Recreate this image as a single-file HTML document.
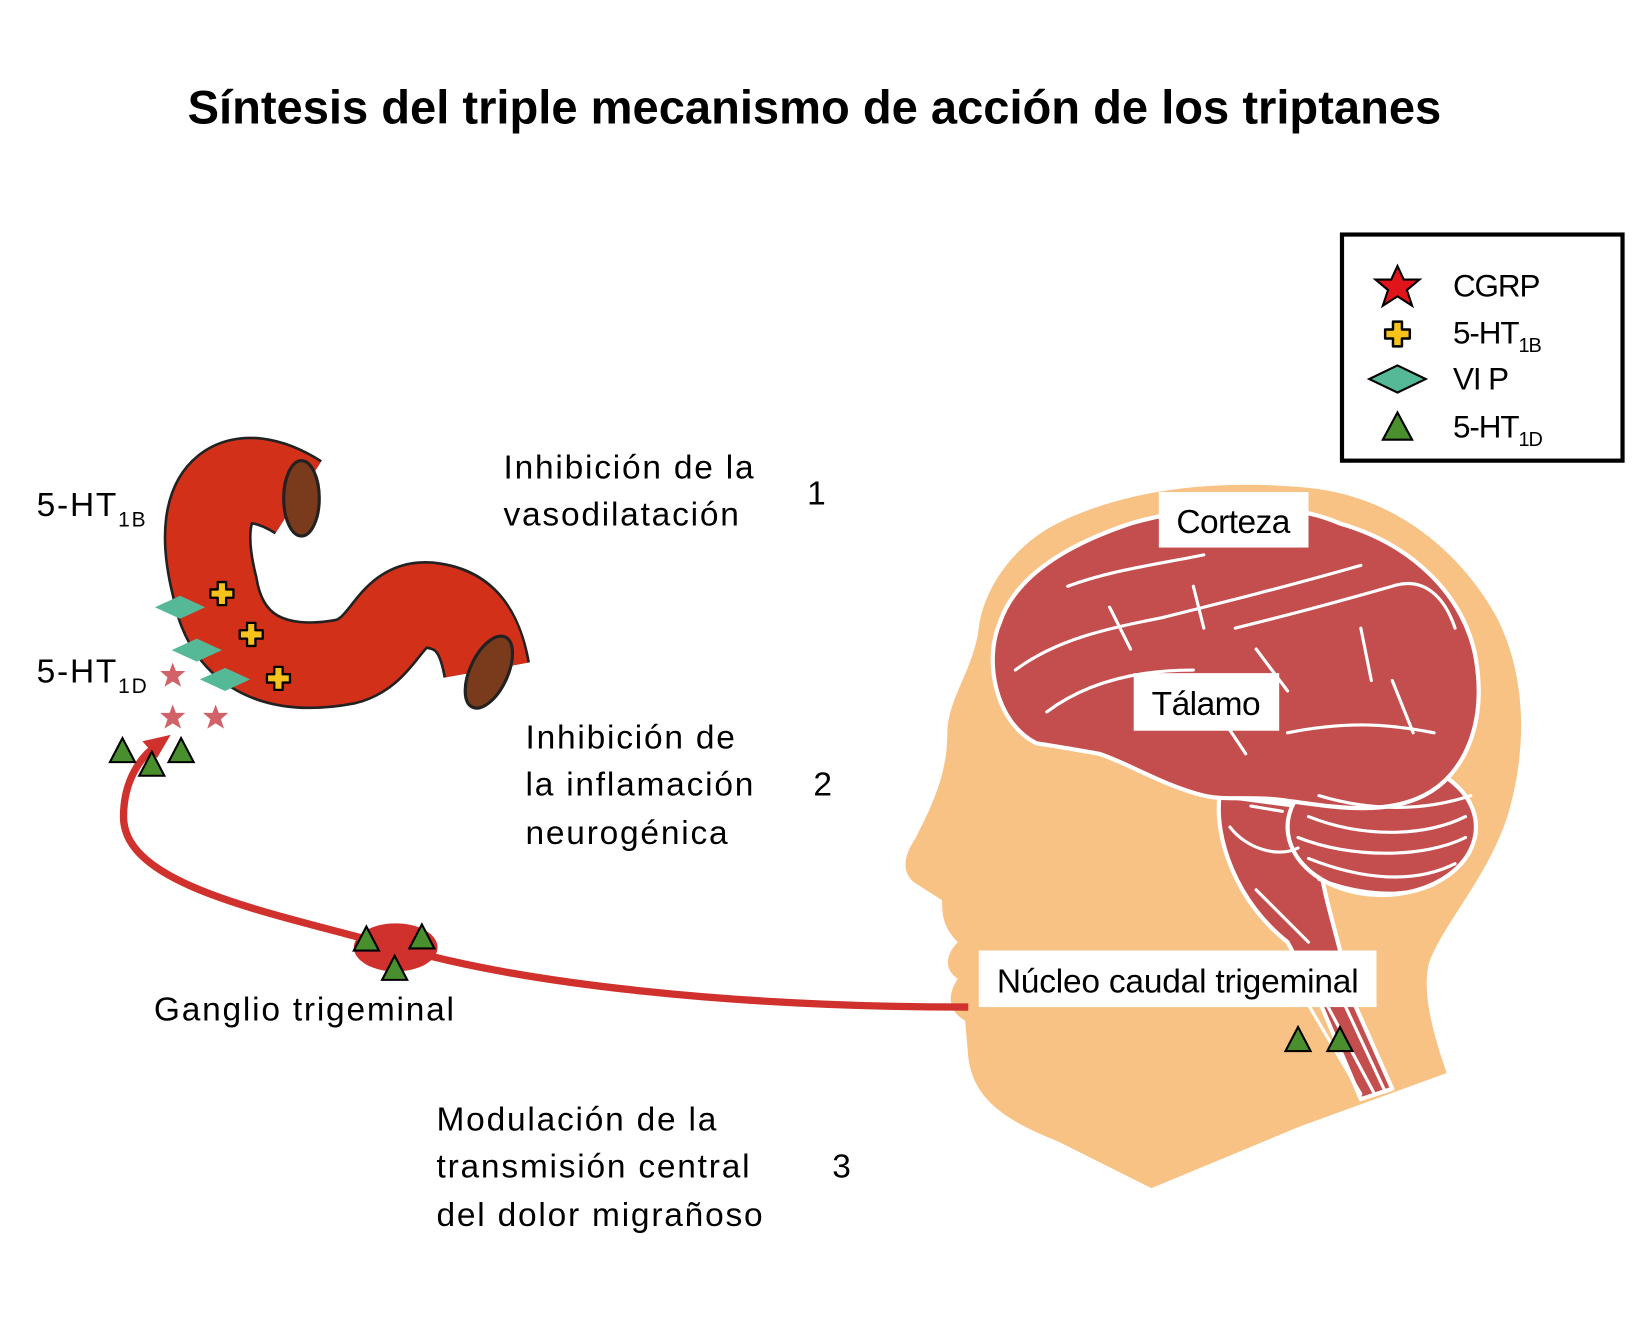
<!DOCTYPE html>
<html><head><meta charset="utf-8"><style>
html,body{margin:0;padding:0;background:#fff;}
svg{display:block;}
text{font-family:"Liberation Sans",sans-serif;fill:#000;}
</style></head><body>
<svg width="1633" height="1317" viewBox="0 0 1560 1258" xmlns="http://www.w3.org/2000/svg">
<defs>
<symbol id="tri" viewBox="-14 -14 28 28"><polygon points="0,-12 12,11 -12,11" fill="#4a8f2e" stroke="#000" stroke-width="2"/></symbol>
<symbol id="crs" viewBox="-14 -14 28 28"><path d="M-4,-11 H4 V-4 H11 V4 H4 V11 H-4 V4 H-11 V-4 H-4 Z" fill="#f8c21c" stroke="#000" stroke-width="2.2" stroke-linejoin="round"/></symbol>
<symbol id="dia" viewBox="-26 -13 52 26"><polygon points="0,-11 24,0 0,11 -24,0" fill="#55b897"/></symbol>
<symbol id="star" viewBox="-14 -14 28 28"><polygon points="0,-12 3,-4 12,-4 5,2 8,11 0,6 -8,11 -5,2 -12,-4 -3,-4" fill="#c8474d" opacity="0.85"/></symbol>
</defs>

<text x="778" y="118" text-anchor="middle" font-size="45" font-weight="bold">Síntesis del triple mecanismo de acción de los triptanes</text>

<!-- Legend -->
<rect x="1282" y="224" width="268" height="216" fill="#fff" stroke="#000" stroke-width="4"/>
<polygon points="1335,254 1341,267 1356,267 1344,277 1349,292 1335,283 1321,292 1326,277 1314,267 1329,267" fill="#e0141b" stroke="#000" stroke-width="2"/>
<use href="#crs" x="1320" y="304" width="30" height="30"/>
<polygon points="1335,349 1362,362 1335,375 1308,362" fill="#55b897" stroke="#000" stroke-width="2"/>
<polygon points="1335,394 1349,420 1321,420" fill="#4a8f2e" stroke="#000" stroke-width="2"/>
<text x="1388" y="283" font-size="30" letter-spacing="-1">CGRP</text>
<text x="1388" y="328" font-size="30" letter-spacing="-1">5-HT<tspan font-size="19" dy="8">1B</tspan></text>
<text x="1388" y="372" font-size="30" letter-spacing="-1">VI P</text>
<text x="1388" y="418" font-size="30" letter-spacing="-1">5-HT<tspan font-size="19" dy="8">1D</tspan></text>

<!-- Head -->
<path d="M1100,1135 L1010,1090 C960,1070 930,1050 925,1010 L922,975 C905,965 905,950 915,935 C900,925 905,910 915,900 C900,885 900,872 900,860 L872,842 C860,830 865,815 875,800 C890,770 905,740 905,700 C905,668 930,640 935,600 C940,560 970,520 1010,500 C1080,465 1170,458 1250,466 C1340,475 1400,535 1430,590 C1460,650 1458,720 1440,780 C1420,840 1380,880 1365,920 C1358,950 1370,990 1382,1025 L1242,1076 Z" fill="#f8c285"/>

<!-- Brain -->
<g stroke="#fff" stroke-width="4" fill="#c44e4e" stroke-linejoin="round">
<path d="M1165,760 C1160,800 1180,860 1230,900 L1262,960 L1300,1050 L1330,1040 L1290,950 C1280,900 1265,860 1260,820 L1240,770 Z"/>
<ellipse cx="1320" cy="790" rx="90" ry="65"/>
<path d="M990,710 C950,690 940,630 955,595 C970,550 1020,520 1080,500 C1150,480 1230,478 1280,500 C1350,520 1400,570 1410,630 C1420,690 1400,740 1360,760 C1320,780 1270,770 1230,765 C1200,760 1170,765 1150,760 C1110,750 1080,730 1050,720 C1020,715 1005,712 990,710 Z"/>
</g>
<g stroke="#fff" stroke-width="3" fill="none" stroke-linecap="round">
<path d="M970,640 C1010,610 1060,600 1110,590 C1170,575 1230,560 1300,540"/>
<path d="M1000,680 C1040,650 1090,640 1140,640"/>
<path d="M1020,560 C1060,545 1100,540 1150,530"/>
<path d="M1180,600 C1220,590 1260,580 1330,560 C1360,550 1380,570 1390,600"/>
<path d="M1230,700 C1280,690 1320,690 1370,700"/>
<path d="M1060,580 L1080,620 M1140,560 L1150,600 M1200,620 L1230,660 M1300,600 L1310,650 M1330,650 L1350,700 M1170,690 L1190,720"/>
<path d="M1250,780 C1300,800 1360,800 1400,780 M1240,800 C1290,820 1360,820 1400,800 M1250,820 C1300,840 1350,845 1390,825 M1260,840 C1300,855 1340,858 1370,845 M1260,760 C1310,775 1360,775 1405,760"/>
<path d="M1175,790 C1190,810 1220,820 1240,810 M1195,770 L1225,775 M1200,850 C1220,870 1240,890 1250,900"/>
<path d="M1250,960 L1300,1045 M1265,955 L1312,1043 M1280,950 L1322,1040"/>
</g>

<rect x="1107" y="470" width="143" height="53" fill="#fff"/>
<text x="1178" y="509" text-anchor="middle" font-size="32" letter-spacing="-0.5">Corteza</text>
<rect x="1083" y="643" width="139" height="55" fill="#fff"/>
<text x="1152" y="683" text-anchor="middle" font-size="32" letter-spacing="-0.5">Tálamo</text>
<rect x="935" y="908" width="380" height="54" fill="#fff"/>
<text x="1125" y="948" text-anchor="middle" font-size="32" letter-spacing="-0.2">Núcleo caudal trigeminal</text>
<use href="#tri" x="1226" y="979" width="28" height="28"/>
<use href="#tri" x="1266" y="979" width="28" height="28"/>

<!-- Red arrow -->
<path d="M925,962 C700,962 500,940 380,905 C250,870 118,845 118,780 C118,745 135,722 150,712" fill="none" stroke="#d0312d" stroke-width="7"/>
<polygon points="163,702 136,708 150,724" fill="#d0312d"/>
<ellipse cx="378" cy="905" rx="40" ry="23" fill="#d0312d"/>
<use href="#tri" x="336" y="883" width="28" height="28"/>
<use href="#tri" x="389" y="881" width="28" height="28"/>
<use href="#tri" x="363" y="911" width="28" height="28"/>

<!-- Vessel -->
<path d="M285,475 C230,440 180,460 205,560 C215,620 260,645 330,632 C370,622 370,575 410,578 C450,582 460,612 465,640" fill="none" stroke="#222" stroke-width="84" stroke-linecap="butt"/>
<path d="M285,475 C230,440 180,460 205,560 C215,620 260,645 330,632 C370,622 370,575 410,578 C450,582 460,612 465,640" fill="none" stroke="#d3301a" stroke-width="79" stroke-linecap="butt"/>
<ellipse cx="288" cy="476" rx="17" ry="36" fill="#7a3a1c" stroke="#222" stroke-width="3"/>
<ellipse cx="467" cy="642" rx="18" ry="37" transform="rotate(25 467 642)" fill="#7a3a1c" stroke="#222" stroke-width="3"/>
<use href="#crs" x="198" y="553" width="28" height="28"/>
<use href="#crs" x="226" y="592" width="28" height="28"/>
<use href="#crs" x="252" y="634" width="28" height="28"/>
<use href="#dia" x="146" y="567" width="52" height="26"/>
<use href="#dia" x="162" y="608" width="52" height="26"/>
<use href="#dia" x="189" y="636" width="52" height="26"/>
<use href="#star" x="151" y="631" width="28" height="28"/>
<use href="#star" x="151" y="671" width="28" height="28"/>
<use href="#star" x="192" y="671" width="28" height="28"/>
<use href="#tri" x="103" y="703" width="28" height="28"/>
<use href="#tri" x="131" y="716" width="28" height="28"/>
<use href="#tri" x="159" y="703" width="28" height="28"/>

<!-- Labels -->
<g font-size="32" letter-spacing="1.7">
<text x="35" y="493">5-HT<tspan font-size="20" dy="10">1B</tspan></text>
<text x="35" y="652">5-HT<tspan font-size="20" dy="10">1D</tspan></text>
<text x="481" y="457">Inhibición de la</text>
<text x="481" y="502">vasodilatación</text>
<text x="771" y="482">1</text>
<text x="502" y="715">Inhibición de</text>
<text x="502" y="760">la inflamación</text>
<text x="502" y="806">neurogénica</text>
<text x="777" y="760">2</text>
<text x="147" y="975">Ganglio trigeminal</text>
<text x="417" y="1080">Modulación de la</text>
<text x="417" y="1125">transmisión central</text>
<text x="417" y="1171">del dolor migrañoso</text>
<text x="795" y="1125">3</text>
</g>
</svg>
</body></html>
